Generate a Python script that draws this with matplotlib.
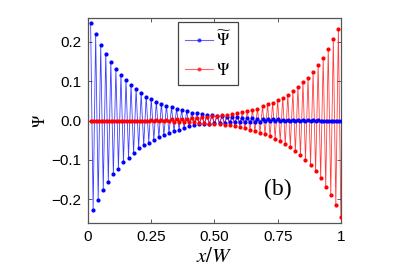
import numpy as np
import matplotlib
matplotlib.use("Agg")
import matplotlib.pyplot as plt
from matplotlib.lines import Line2D

plt.rcParams['font.family'] = ['Liberation Sans', 'DejaVu Sans']
plt.rcParams['mathtext.fontset'] = 'stix'

# site index 1..100, position x/W
sites = np.arange(1, 101)
x = sites / 100.0

# Psi tilde (blue), left to right
psi_tilde = [
    0.247, -0.228, 0.219, -0.203, 0.192, -0.177, 0.170, -0.156, 0.149, -0.137,
    0.130, -0.122, 0.116, -0.106, 0.102, -0.094, 0.090, -0.083, 0.080, -0.071,
    0.069, -0.063, 0.061, -0.056, 0.055, -0.049, 0.048, -0.043, 0.043, -0.037,
    0.038, -0.032, 0.034, -0.027, 0.030, -0.023, 0.026, -0.018, 0.023, -0.014,
    0.020, -0.012, 0.018, -0.010, 0.016, -0.009, 0.015, -0.008, 0.013, -0.007,
    0.012, -0.006, 0.011, -0.006, 0.010, -0.005, 0.009, -0.005, 0.008, -0.004,
    0.007, -0.004, 0.006, -0.003, 0.006, -0.003, 0.005, -0.003, 0.004, -0.002,
    0.004, -0.002, 0.003, -0.002, 0.003, -0.001, 0.002, -0.001, 0.002, -0.001,
    0.002, -0.001, 0.001, -0.001, 0.001, -0.001, 0.001, 0.000, 0.001, 0.000,
    0.001, 0.000, 0.000, 0.000, 0.000, 0.000, 0.000, 0.000, 0.000, 0.000,
]

# Psi (red), left to right
psi = [
    0.000, 0.000, 0.000, 0.000, 0.000, 0.000, 0.000, 0.000, 0.000, 0.000,
    0.000, 0.000, 0.000, 0.000, 0.000, 0.000, 0.000, 0.000, 0.000, 0.000,
    0.000, 0.000, 0.000, 0.000, 0.001, -0.001, 0.001, -0.001, 0.002, -0.002,
    0.002, -0.002, 0.003, -0.003, 0.003, -0.003, 0.004, -0.004, 0.005, -0.005,
    0.006, -0.005, 0.007, -0.006, 0.008, -0.007, 0.010, -0.008, 0.011, -0.009,
    0.012, -0.010, 0.014, -0.011, 0.015, -0.012, 0.017, -0.013, 0.019, -0.016,
    0.021, -0.020, 0.024, -0.024, 0.026, -0.027, 0.030, -0.031, 0.036, -0.035,
    0.041, -0.040, 0.045, -0.046, 0.051, -0.053, 0.058, -0.059, 0.065, -0.066,
    0.074, -0.078, 0.085, -0.088, 0.097, -0.100, 0.108, -0.112, 0.124, -0.129,
    0.140, -0.147, 0.159, -0.168, 0.182, -0.188, 0.207, -0.215, 0.232, -0.244,
]

blue = '#0000ff'
red = '#ff0000'

fig = plt.figure(figsize=(3.95, 2.79), dpi=100)
ax = fig.add_axes([0.223, 0.201, 0.640, 0.734])

# lines first, markers on top
ax.plot(x, psi_tilde, '-', color=blue, lw=0.6, alpha=0.75, zorder=2)
ax.plot(x, psi, '-', color=red, lw=0.6, alpha=0.75, zorder=2)
ax.plot(x, psi_tilde, '.', color=blue, ms=4, zorder=3)
ax.plot(x, psi, '.', color=red, ms=4, zorder=3)

ax.set_xlim(0, 1)
ax.set_ylim(-0.26, 0.26)
ax.set_xticks([0, 0.25, 0.5, 0.75, 1])
ax.set_xticklabels(['0', '0.25', '0.50', '0.75', '1'])
ax.set_yticks([-0.2, -0.1, 0.0, 0.1, 0.2])
ax.set_yticklabels(['\u22120.2', '\u22120.1', '0.0', '0.1', '0.2'])
ax.tick_params(direction='in', top=True, right=True, length=3, width=0.6,
               labelsize=11, colors='#444444', labelcolor='black', pad=5)
for s in ax.spines.values():
    s.set_linewidth(0.9)
    s.set_color('#555555')

ax.set_xlabel(r'$x/W$', fontsize=15, labelpad=2)
ax.set_ylabel(r'$\Psi$', fontsize=12, labelpad=2)

ax.text(0.75, -0.175, '(b)', fontsize=17, family='Liberation Serif',
        ha='center', va='center')

handles = [
    Line2D([], [], color=blue, lw=0.8, alpha=0.6, marker='.', ms=4,
           markerfacecolor=blue, markeredgecolor=blue),
    Line2D([], [], color=red, lw=0.8, alpha=0.6, marker='.', ms=4,
           markerfacecolor=red, markeredgecolor=red),
]
leg = ax.legend(handles, [r'$\widetilde{\Psi}$', r'$\Psi$'],
                loc='upper left', bbox_to_anchor=(0.356, 0.98),
                borderaxespad=0, fontsize=12, numpoints=1,
                handlelength=1.7, labelspacing=0.8, borderpad=0.4,
                handletextpad=0.15, fancybox=False,
                framealpha=1, edgecolor='#444444')
leg.get_frame().set_linewidth(0.9)

fig.savefig('out.png', dpi=100)
